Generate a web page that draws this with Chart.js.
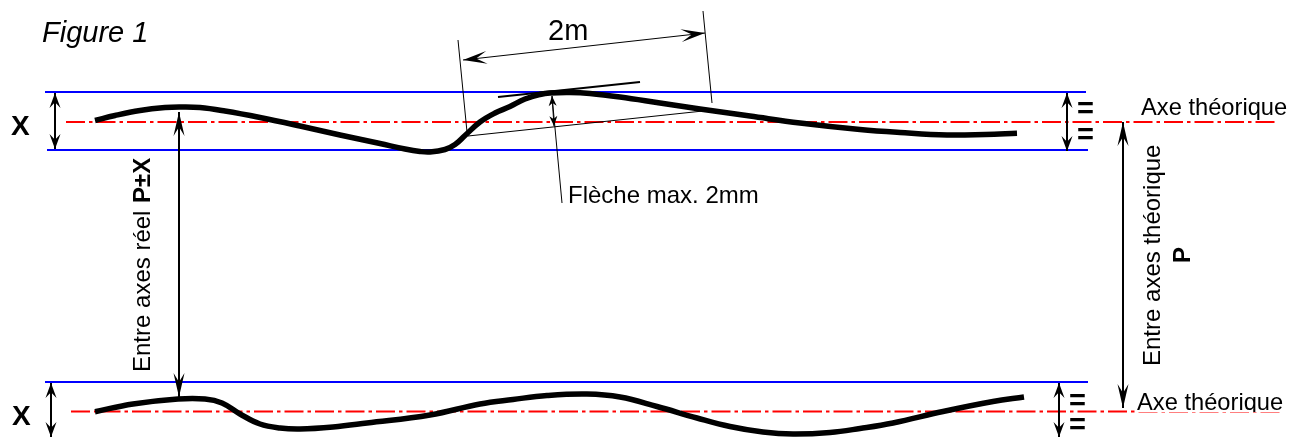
<!DOCTYPE html>
<html><head><meta charset="utf-8">
<style>html,body{margin:0;padding:0;background:#fff;overflow:hidden}canvas{display:block}</style>
<script src="https://cdn.jsdelivr.net/npm/chart.js@4"></script>
</head><body><canvas id="c" width="1289" height="437"></canvas>
<script>
const topCurveX=[95,115,140,165,180,200,225,260,300,340,380,405,420,430,445,455,465,480,495,510,525,540,550,570,590,620,660,700,750,800,860,900,947,985,1017];
const topCurveY=[120.5,115.5,110.5,107.5,107,107.5,111,117.5,126,135,143.5,149,151.5,152,149.5,144.5,135.5,122,113,106.5,99,94.5,93,92.5,93.5,97,103,109,116,123,129.5,132.5,135,134.5,133.3];
const bottomCurveX=[95,133,178,205,222,240,260,280,300,333,367,430,480,513,547,587,620,657,697,730,763,793,830,860,893,943,993,1024];
const bottomCurveY=[411.7,404,399,399,403,414,424,428,429,427,423,415,404,399.5,395.5,394,397,406.5,418,426.5,432,434,432.5,428.5,423,411.5,401.5,397];
const blueLines=[[[45,92],[1086,92]],[[47,150],[1088,150]],[[45,382],[1088,382]]];
const redAxes=[[[66,122],[1275,122]],[[71,411.5],[1280,411.5]]];
const arrowLines=[[[55,93],[55,149]],[[179,112],[179,397]],[[51,383],[51,437]],[[1067,93],[1067,151]],[[1059,383],[1059,437]],[[1123,122],[1123,408]]];
const arrowHeadLengths=[15,24,15,15,15,24];
const dimensionLine=[[463,60],[705,33]];
const extensionLines=[[[458,40],[467,132]],[[703,11],[712,103]]];
const chordLine=[[468,136],[703,111]];
const tangentLine=[[498,97],[640,82]];
const leaderLine=[[552,96],[562,203]];
const sagitta=[[554,126],[552,96]];
const labels=[
 {t:"Figure 1",x:42,y:42,f:"italic 29px"},
 {t:"X",x:11,y:135,f:"bold 28px"},
 {t:"X",x:12,y:425,f:"bold 28px"},
 {t:"2m",x:548,y:40,f:"29px"},
 {t:"Flèche max. 2mm",x:568,y:203,f:"24px"},
 {t:"Axe théorique",x:1141,y:115,f:"23.7px"},
 {t:"Axe théorique",x:1137,y:410,f:"23.7px",bg:[1135,392,154,20]},
 {t:"=",x:1077,y:118,f:"bold 29px"},
 {t:"=",x:1077,y:143.5,f:"bold 29px"},
 {t:"=",x:1069,y:410,f:"bold 29px"},
 {t:"=",x:1069,y:434,f:"bold 29px"},
 {t:"Entre axes réel ",x:150,y:372,f:"24px",r:true},
 {t:"P±X",x:150,y:203,f:"bold 24px",r:true},
 {t:"Entre axes théorique",x:1160,y:366,f:"24px",r:true},
 {t:"P",x:1190,y:263,f:"bold 24px",r:true}
];
const FONT='"Liberation Sans", Arial, sans-serif';
const xy=(xs,ys)=>xs.map((x,i)=>({x,y:ys[i]}));
const pts=a=>a.map(p=>({x:p[0],y:p[1]}));
const base={showLine:true,pointRadius:0,pointHoverRadius:0,fill:false,tension:0};
const ds=[];
ds.push({...base,label:"Courbe haut",data:xy(topCurveX,topCurveY),borderColor:"#000",borderWidth:5.5,tension:0.4});
ds.push({...base,label:"Courbe bas",data:xy(bottomCurveX,bottomCurveY),borderColor:"#000",borderWidth:5.5,tension:0.4});
arrowLines.forEach((a,i)=>ds.push({...base,label:"Cote "+i,data:pts(a),borderColor:"#000",borderWidth:2,head:{len:arrowHeadLengths[i],half:5.5,notch:.62}}));
ds.push({...base,label:"Cote 2m",data:pts(dimensionLine),borderColor:"#000",borderWidth:1,head:{len:24,half:6.5,notch:.55}});
extensionLines.forEach((a,i)=>ds.push({...base,label:"Rappel "+i,data:pts(a),borderColor:"#000",borderWidth:1}));
ds.push({...base,label:"Corde",data:pts(chordLine),borderColor:"#000",borderWidth:1});
ds.push({...base,label:"Tangente",data:pts(tangentLine),borderColor:"#000",borderWidth:2});
ds.push({...base,label:"Renvoi",data:pts(leaderLine),borderColor:"#000",borderWidth:1});
ds.push({...base,label:"Flèche",data:pts(sagitta),borderColor:"#000",borderWidth:1,head:{len:10,half:4,notch:.7}});
redAxes.forEach((a,i)=>ds.push({...base,label:"Axe "+i,data:pts(a),borderColor:"#ff0000",borderWidth:2,borderDash:[19,4,3.5,4]}));
blueLines.forEach((a,i)=>ds.push({...base,label:"Limite "+i,data:pts(a),borderColor:"#0000ff",borderWidth:2.2}));

const annotate={id:"annotate",afterDatasetsDraw(ch){
 const g=ch.ctx,sx=ch.scales.x,sy=ch.scales.y;
 const head=(tip,from,h)=>{
  const ang=Math.atan2(tip.y-from.y,tip.x-from.x),c=Math.cos(ang),s=Math.sin(ang);
  const P=(b,w)=>[tip.x-b*c-w*s,tip.y-b*s+w*c];
  g.beginPath();
  g.moveTo(tip.x,tip.y);g.lineTo(...P(h.len,h.half));g.lineTo(...P(h.len*h.notch,0));g.lineTo(...P(h.len,-h.half));g.closePath();
  g.fillStyle="#000";g.fill();
 };
 g.save();
 ch.data.datasets.forEach(d=>{ if(!d.head) return;
  const a=d.data[0],b=d.data[d.data.length-1];
  const A={x:sx.getPixelForValue(a.x),y:sy.getPixelForValue(a.y)},B={x:sx.getPixelForValue(b.x),y:sy.getPixelForValue(b.y)};
  head(B,A,d.head); head(A,B,d.head);
 });
 labels.forEach(l=>{
  const x=sx.getPixelForValue(l.x),y=sy.getPixelForValue(l.y);
  g.save();
  if(l.bg){g.fillStyle="#fff";g.fillRect(l.bg[0],l.bg[1],l.bg[2],l.bg[3]);
   g.beginPath();g.rect(l.bg[0],l.bg[1],l.bg[2],l.bg[3]);g.clip();}
  g.translate(x,y);if(l.r)g.rotate(-Math.PI/2);
  g.font=l.f+" "+FONT;g.fillStyle="#000";g.textAlign="left";g.textBaseline="alphabetic";
  g.fillText(l.t,0,0);g.restore();
 });
 g.restore();
}};
new Chart(document.getElementById("c"),{type:"scatter",data:{datasets:ds},plugins:[annotate],options:{
 responsive:false,animation:false,events:[],clip:false,layout:{padding:0},
 plugins:{legend:{display:false},tooltip:{enabled:false},title:{display:false}},
 scales:{x:{type:"linear",min:0,max:1289,display:false},y:{type:"linear",min:0,max:437,reverse:true,display:false}}
}});
</script></body></html>
